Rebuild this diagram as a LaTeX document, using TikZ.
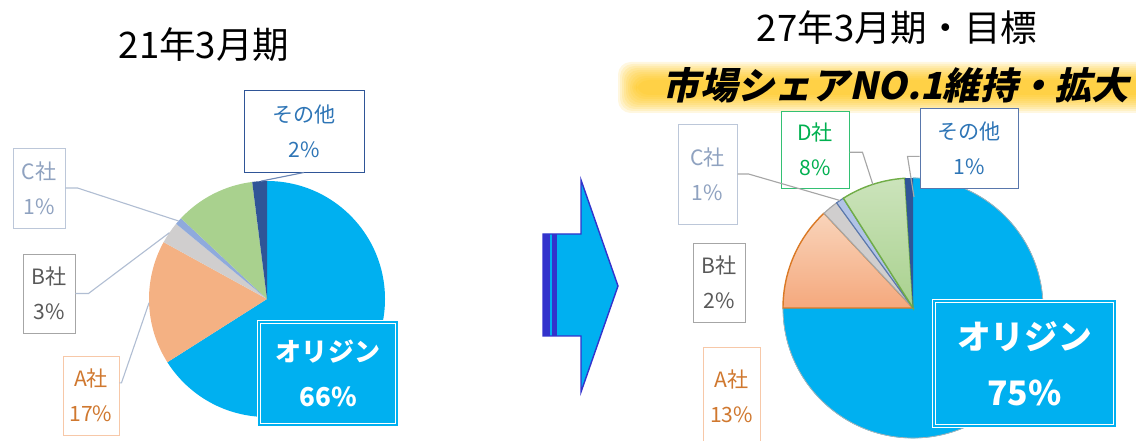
\documentclass[tikz,border=0pt]{standalone}
\usepackage{fontspec}
\setmainfont{Noto Sans CJK JP}
\newfontfamily\bannerfont{Noto Sans CJK JP}[FakeSlant=0.22]

\definecolor{orijin}{HTML}{00B0F0}
\definecolor{shaA}{HTML}{F4B183}
\definecolor{shaB}{HTML}{D0CECE}
\definecolor{shaC}{HTML}{8FAADC}
\definecolor{shaD}{HTML}{A9D18E}
\definecolor{shaO}{HTML}{2F5597}
\definecolor{edgeD}{HTML}{70AD47}
\definecolor{txtO}{HTML}{2E75B6}
\definecolor{txtC}{HTML}{8FA2C0}
\definecolor{txtB}{HTML}{595959}
\definecolor{txtA}{HTML}{D0782F}
\definecolor{txtD}{HTML}{00B050}
\definecolor{glow}{HTML}{FFC000}
\definecolor{arrowedge}{HTML}{3333CC}

\newcommand{\pxu}{0.025cm}

\begin{document}
\begin{tikzpicture}[x=0.025cm, y=0.025cm,
  label/.style={draw, fill=white, line width=0.7pt, align=center, inner sep=0pt,
    font=\fontsize{15}{25}\selectfont},
  obox/.style={fill=orijin, draw=white, double=orijin, double distance=1.4pt,
    line width=0.8pt, text=white, align=center, inner sep=0pt},
  leader/.style={line width=0.8pt, draw=#1},
  title/.style={font=\fontsize{26}{30}\selectfont}]

\useasboundingbox (0,0) rectangle (1136,440);

% titles
\node[title] (t1) at (204,395) {21年3月期};
\node[title] (t2) at (897,412) {27年3月期・目標};

% banner
\foreach \i in {0,...,9}
  \fill[glow, opacity=0.12, rounded corners=9pt] (636-2*\i,345-2*\i) rectangle (1150,360+2*\i);
\node[font=\bannerfont\bfseries\fontsize{26.5}{30}\selectfont] (goal) at (896,355) {市場シェアNO.1維持・拡大};

% left pie
\coordinate (O1) at (267,141);
\fill[orijin] (O1) -- ++(90:118) arc (90:-147.6:118) -- cycle;
\fill[shaA] (O1) -- ++(-147.6:118) arc (-147.6:-208.8:118) -- cycle;
\fill[shaB] (O1) -- ++(-208.8:118) arc (-208.8:-219.6:118) -- cycle;
\fill[shaC] (O1) -- ++(-219.6:118) arc (-219.6:-223.2:118) -- cycle;
\fill[shaD] (O1) -- ++(-223.2:118) arc (-223.2:-262.8:118) -- cycle;
\fill[shaO] (O1) -- ++(-262.8:118) arc (-262.8:-270:118) -- cycle;

\coordinate (P1o) at ([shift={(93:118)}]O1);
\coordinate (P1c) at ([shift={(138.6:118)}]O1);
\coordinate (P1b) at ([shift={(145.8:118)}]O1);
\coordinate (P1a) at ([shift={(181.8:118)}]O1);

\node[label, draw=shaO, text=txtO, minimum width=120*\pxu, minimum height=82*\pxu] (oth1) at (304,309) {その他\\2\%};
\node[label, draw=txtC!60, text=txtC, minimum width=52*\pxu, minimum height=80*\pxu] (c1) at (39,252) {C社\\1\%};
\node[label, draw=gray!70, text=txtB, minimum width=52*\pxu, minimum height=79*\pxu] (b1) at (49,146.5) {B社\\3\%};
\node[label, draw=shaA!70, text=txtA, minimum width=56*\pxu, minimum height=79*\pxu] (a1) at (91,44.5) {A社\\17\%};
\node[obox, minimum width=138*\pxu, minimum height=103*\pxu,
  font=\bfseries\fontsize{18.5}{32.5}\selectfont] (o1) at (328,66.5) {オリジン\\66\%};

\draw[leader=shaO!70] (oth1.south) -- (P1o);
\draw[leader=txtC!70] (c1.east) -- ++(12,0) -- (P1c);
\draw[leader=txtC!70] (b1.east) -- ++(13,0) -- (P1b);
\draw[leader=txtC!70] ([yshift=9pt]a1.east) -- ++(2,0) -- (P1a);

% arrow
\draw[arrowedge, line width=1pt, fill=orijin] (543,206) -- (581,206) -- (581,260) -- (618,154)
  -- (581,48) -- (581,104) -- (543,104) -- cycle;
\fill[arrowedge] (543,104) rectangle (550,206);
\fill[arrowedge] (552,104) rectangle (556.5,206);

% right pie
\coordinate (O2) at (913,132);
\draw[orijin, fill=orijin] (O2) -- ++(90:130) arc (90:-180:130) -- cycle;
\draw[gray!60, line width=0.5pt] ([shift={(90:130)}]O2) arc (90:-180:130);
\shade[top color=shaA!55, bottom color=shaA!95!red] (O2) -- ++(-180:130) arc (-180:-226.8:130) -- cycle;
\draw[txtA!80!orange, line width=1pt] (O2) -- ++(-180:130) arc (-180:-226.8:130) -- cycle;
\filldraw[fill=shaB, draw=gray!70, line width=0.8pt] (O2) -- ++(-226.8:130) arc (-226.8:-234:130) -- cycle;
\filldraw[fill=shaC!70, draw=shaO!80, line width=0.8pt] (O2) -- ++(-234:130) arc (-234:-237.6:130) -- cycle;
\shade[top color=shaD!60, bottom color=shaD] (O2) -- ++(-237.6:130) arc (-237.6:-266.4:130) -- cycle;
\draw[edgeD, line width=1pt] (O2) -- ++(-237.6:130) arc (-237.6:-266.4:130) -- cycle;
\fill[shaO] (O2) -- ++(-266.4:130) arc (-266.4:-270:130) -- cycle;

\coordinate (P2c) at ([shift={(124.2:130)}]O2);
\coordinate (P2d) at ([shift={(108:130)}]O2);
\coordinate (P2o) at (914,243);

\node[label, draw=txtC!60, text=txtC, minimum width=59*\pxu, minimum height=100*\pxu] (c2) at (707.5,266) {C社\\1\%};
\node[label, draw=txtD!80, text=txtD, minimum width=68*\pxu, minimum height=77*\pxu] (d2) at (815,290.5) {D社\\8\%};
\node[label, draw=shaO!80, text=txtO, minimum width=98*\pxu, minimum height=80*\pxu] (oth2) at (969,292) {その他\\1\%};
\node[label, draw=gray!70, text=txtB, minimum width=52*\pxu, minimum height=79*\pxu] (b2) at (719,157.5) {B社\\2\%};
\node[label, draw=shaA!70, text=txtA, minimum width=57*\pxu, minimum height=98*\pxu] (a2) at (731.5,44) {A社\\13\%};
\node[obox, minimum width=181*\pxu, minimum height=125*\pxu,
  font=\bfseries\fontsize{24}{40}\selectfont] (o2) at (1024.5,76.5) {オリジン\\75\%};

\draw[leader=gray!70] (c2.east) -- ++(11,0) -- (P2c);
\draw[leader=gray!70] ([yshift=-2pt]d2.east) -- ++(13,0) -- (P2d);
\draw[leader=gray!70] ([yshift=-6pt]oth2.west) -- ++(-12,0) -- (P2o);
\end{tikzpicture}
\end{document}
